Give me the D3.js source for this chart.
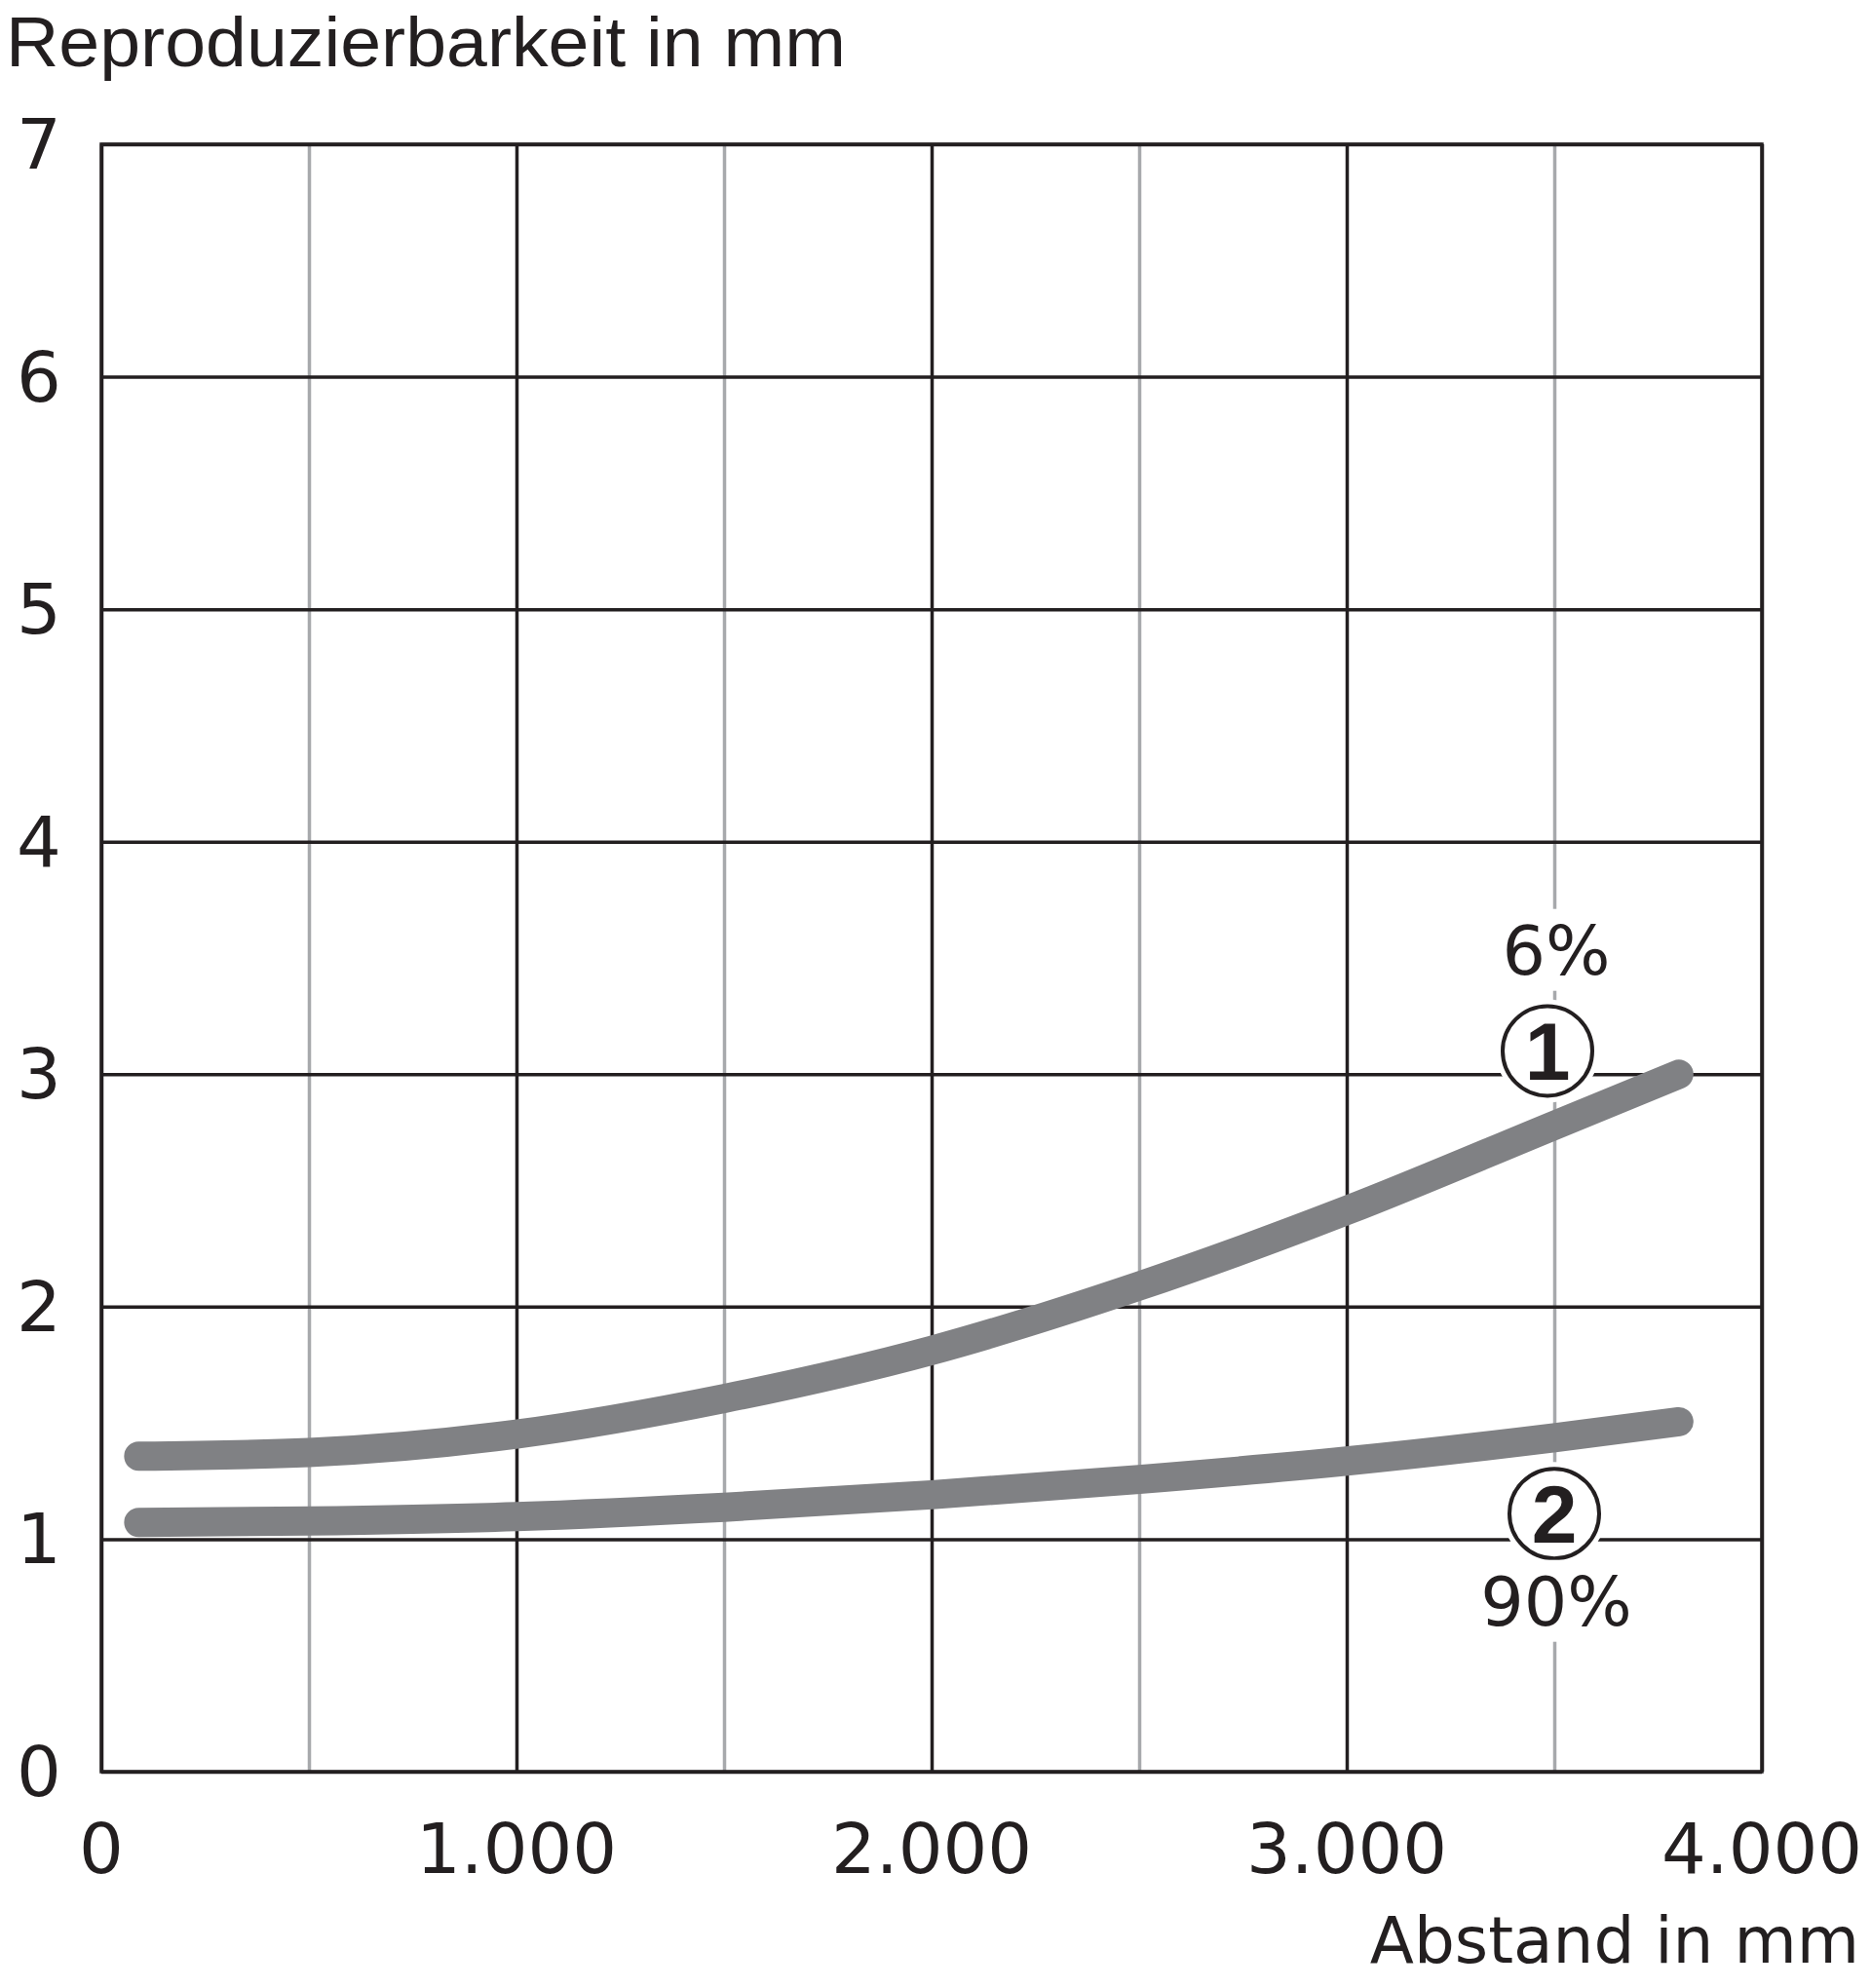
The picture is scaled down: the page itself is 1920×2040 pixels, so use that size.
<!DOCTYPE html>
<meta charset="utf-8">
<style>
body { margin: 0; background: #fff; }
.lbl { font-family: "DejaVu Sans", sans-serif; fill: #231f20; }
.title { font-family: "Liberation Sans", Arial, sans-serif; fill: #231f20; }
.num { font-family: "Liberation Sans", Arial, sans-serif; font-weight: bold; fill: #231f20; }
</style>
<svg width="1920" height="2040"></svg>
<script src="https://d3js.org/d3.v7.min.js"></script>
<script>
// values
var abstand = [90, 500, 1000, 1500, 2000, 2500, 3000, 3500, 3800];
var kurve6 = [1.357, 1.373, 1.452, 1.605, 1.812, 2.089, 2.414, 2.78, 3.0];
var kurve90 = [1.072, 1.078, 1.097, 1.137, 1.191, 1.257, 1.336, 1.436, 1.505];

var xMajor = [0, 1000, 2000, 3000, 4000];
var xMinor = [500, 1500, 2500, 3500];
var xTickLabels = ["0", "1.000", "2.000", "3.000", "4.000"];
var yMajor = [0, 1, 2, 3, 4, 5, 6, 7];
var yTickLabels = ["0", "1", "2", "3", "4", "5", "6", "7"];

var svg = d3.select("svg"),
    margin = {left: 104, top: 148, right: 112, bottom: 222},
    width = +svg.attr("width") - margin.left - margin.right,
    height = +svg.attr("height") - margin.top - margin.bottom;

var x = d3.scaleLinear().domain([0, 4000]).range([0, width]);
var y = d3.scaleLinear().domain([0, 7]).range([height, 0]);

var g = svg.append("g").attr("transform", "translate(" + margin.left + "," + margin.top + ")");

// grey half-step lines first
var minor = g.append("g")
    .attr("transform", "translate(0," + height + ")")
    .call(d3.axisBottom(x).tickValues(xMinor).tickSize(-height).tickFormat(""));
minor.select(".domain").remove();
minor.selectAll("line").attr("stroke", "#a7a9ac").attr("stroke-width", 3.5);

var gx = g.append("g")
    .attr("transform", "translate(0," + height + ")")
    .call(d3.axisBottom(x).tickValues(xMajor).tickSize(-height).tickFormat(""));
gx.select(".domain").remove();
gx.selectAll("line").attr("stroke", "#231f20").attr("stroke-width", 3.5);

var gy = g.append("g")
    .call(d3.axisLeft(y).tickValues(yMajor).tickSize(-width).tickFormat(""));
gy.select(".domain").remove();
gy.selectAll("line").attr("stroke", "#231f20").attr("stroke-width", 3.5);

g.append("rect")
    .attr("width", width).attr("height", height)
    .attr("fill", "none").attr("stroke", "#231f20").attr("stroke-width", 3.5);

// tick labels
g.selectAll(".xl").data(xMajor).enter().append("text")
    .attr("class", "lbl")
    .attr("x", function(d) { return x(d); })
    .attr("y", height + 104)
    .attr("text-anchor", "middle")
    .attr("font-size", 72)
    .text(function(d, i) { return xTickLabels[i]; });

g.selectAll(".yl").data(yMajor).enter().append("text")
    .attr("class", "lbl")
    .attr("x", 40 - margin.left)
    .attr("y", function(d) { return y(d) + 25; })
    .attr("text-anchor", "middle")
    .attr("font-size", 72)
    .text(function(d, i) { return yTickLabels[i]; });

// axis titles
svg.append("text").attr("class", "title")
    .attr("x", 6).attr("y", 68)
    .attr("font-size", 73)
    .attr("textLength", 862)
    .attr("lengthAdjust", "spacingAndGlyphs")
    .text("Reproduzierbarkeit in mm");

svg.append("text").attr("class", "lbl")
    .attr("x", 1908).attr("y", 2014)
    .attr("text-anchor", "end")
    .attr("font-size", 66)
    .text("Abstand in mm");

// curves
var line = d3.line()
    .x(function(d) { return x(d[0]); })
    .y(function(d) { return y(d[1]); })
    .curve(d3.curveMonotoneX);

[kurve6, kurve90].forEach(function(s) {
    g.append("path")
        .datum(abstand.map(function(a, i) { return [a, s[i]]; }))
        .attr("d", line)
        .attr("fill", "none")
        .attr("stroke", "#808184")
        .attr("stroke-width", 30)
        .attr("stroke-linecap", "round")
        .attr("stroke-linejoin", "round");
});

// annotations at 3500 mm
function pctLabel(txt, yv) {
    var cx = x(3500), by = y(yv);
    g.append("rect")
        .attr("x", cx - 80).attr("y", by - 67)
        .attr("width", 160).attr("height", 84)
        .attr("fill", "#fff");
    g.append("text").attr("class", "lbl")
        .attr("x", cx + 2).attr("y", by)
        .attr("text-anchor", "middle")
        .attr("font-size", 70)
        .text(txt);
}

function circled(n, dx, yv) {
    var cx = x(3500) + dx, cy = y(yv);
    g.append("circle").attr("cx", cx).attr("cy", cy).attr("r", 47)
        .attr("fill", "#fff").attr("stroke", "#fff").attr("stroke-width", 12);
    g.append("circle").attr("cx", cx).attr("cy", cy).attr("r", 46)
        .attr("fill", "#fff").attr("stroke", "#231f20").attr("stroke-width", 4);
    g.append("text").attr("class", "num")
        .attr("x", cx).attr("y", cy + 30)
        .attr("text-anchor", "middle")
        .attr("font-size", 84)
        .text(n);
}

pctLabel("6%", 3.43);
circled("1", -7, 3.1);
circled("2", 0, 1.11);
pctLabel("90%", 0.63);
</script>
